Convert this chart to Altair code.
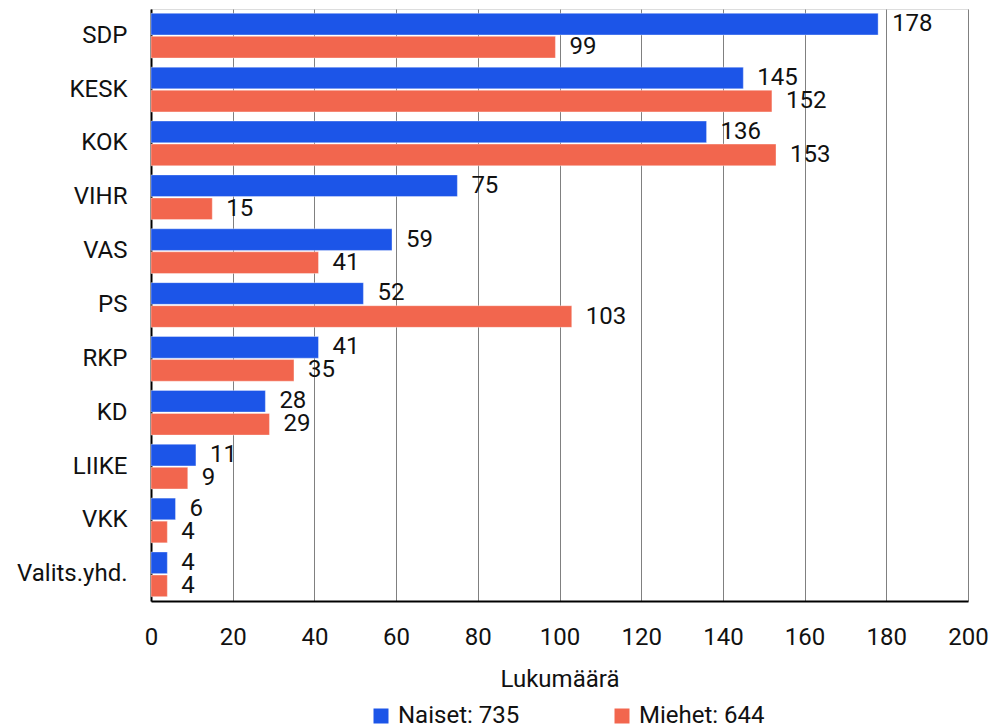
import altair as alt
import pandas as pd

categories = ["SDP", "KESK", "KOK", "VIHR", "VAS", "PS", "RKP", "KD", "LIIKE", "VKK", "Valits.yhd."]
naiset = [178, 145, 136, 75, 59, 52, 41, 28, 11, 6, 4]
miehet = [99, 152, 153, 15, 41, 103, 35, 29, 9, 4, 4]
series = ["Naiset: 735", "Miehet: 644"]
colors = ["#1c55e8", "#f2664e"]

rows = []
for c, n, m in zip(categories, naiset, miehet):
    rows.append({"puolue": c, "sarja": series[0], "arvo": n})
    rows.append({"puolue": c, "sarja": series[1], "arvo": m})
df = pd.DataFrame(rows)

FONT = "Roboto"
FS = 24

y_enc = alt.Y("puolue:N", sort=categories,
              scale=alt.Scale(paddingInner=0.17, paddingOuter=0.08),
              axis=alt.Axis(title=None, labelFontSize=FS, labelPadding=24, ticks=False,
                            domainColor="#000000", domainWidth=2, labelColor="#111111",
                            labelFont=FONT, grid=False))
yoff = alt.YOffset("sarja:N", sort=series, scale=alt.Scale(paddingInner=0.06))

base = alt.Chart(df)

bars = base.mark_bar(stroke="#ffffff", strokeWidth=0.6, strokeOpacity=0.6).encode(
    y=y_enc,
    yOffset=yoff,
    x=alt.X("arvo:Q", scale=alt.Scale(domain=[0, 200]),
            axis=alt.Axis(title="Lukumäärä", values=list(range(0, 201, 20)), labelFontSize=FS,
                          labelPadding=24, ticks=False, domainColor="#000000", domainWidth=2,
                          gridColor="#808080", gridWidth=1, labelColor="#111111",
                          labelFlush=False,
                          titleFontSize=FS, titleFontWeight="normal", titleColor="#111111",
                          titlePadding=18, labelFont=FONT, titleFont=FONT)),
    color=alt.Color("sarja:N", sort=series, scale=alt.Scale(domain=series, range=colors),
                    legend=alt.Legend(title=None, orient="none", legendX=218, legendY=695,
                                      direction="horizontal", symbolType="square",
                                      symbolSize=225, symbolStrokeWidth=0, labelFontSize=FS,
                                      labelFont=FONT, labelColor="#111111", columnPadding=90,
                                      labelOffset=5, labelLimit=300)),
)

labels = base.mark_text(align="left", baseline="middle", dx=14, fontSize=FS, font=FONT,
                        color="#111111").encode(
    y=alt.Y("puolue:N", sort=categories),
    yOffset=alt.YOffset("sarja:N", sort=series),
    x=alt.X("arvo:Q"),
    text=alt.Text("arvo:Q"),
)

chart = alt.layer(bars, labels).properties(
    width=817, height=592,
    autosize=alt.AutoSizeParams(type="none"),
    padding={"left": 143, "top": 1, "right": 23, "bottom": 127},
).configure_view(stroke=None).configure(background="#ffffff")

chart.save("out.html", embed_options={"renderer": "svg", "actions": False})
